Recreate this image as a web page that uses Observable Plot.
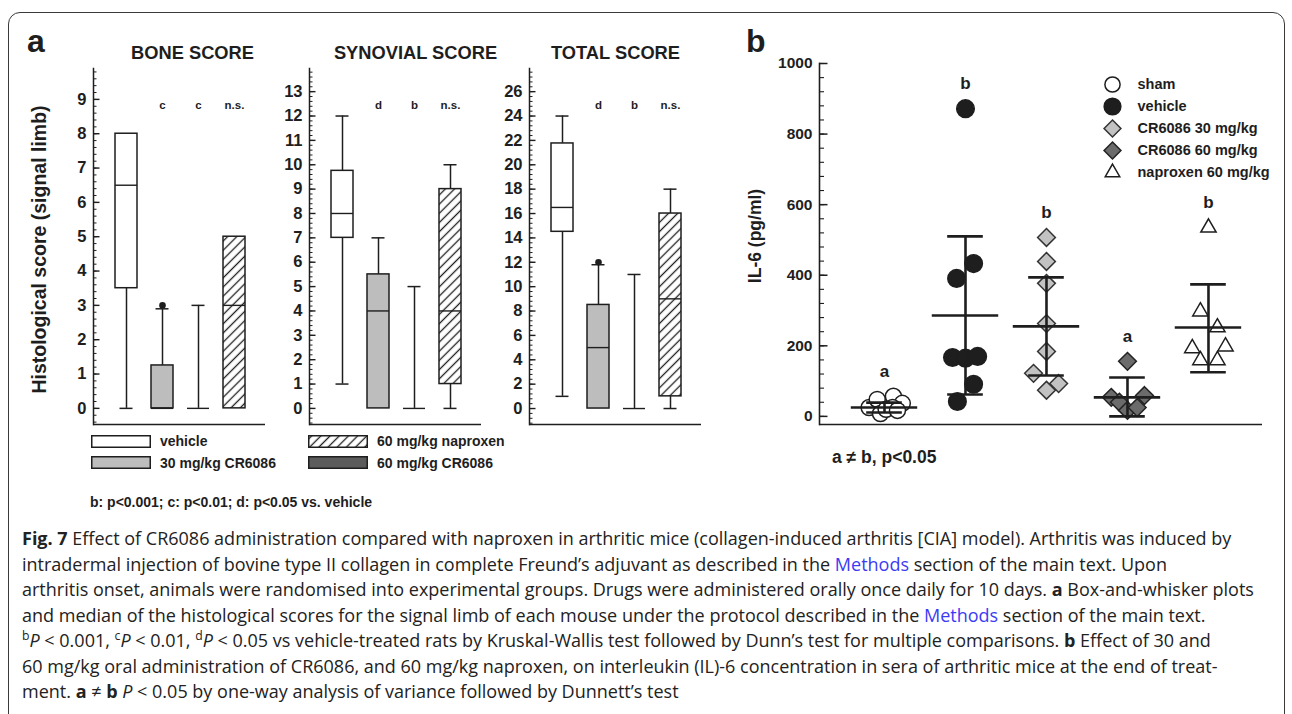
<!DOCTYPE html>
<html>
<head>
<meta charset="utf-8">
<script src="https://cdn.jsdelivr.net/npm/d3@7"></script>
<script src="https://cdn.jsdelivr.net/npm/@observablehq/plot@0.6"></script>
<style>
  html, body { margin: 0; padding: 0; background: #fff; }
  #fig { position: relative; width: 1292px; height: 714px; overflow: hidden;
         font-family: "Liberation Sans", Arial, sans-serif; color: #1e1e1e; }
  #fig > svg, #fig > figure { position: absolute; margin: 0; }
  .border { position: absolute; left: 8px; top: 12px; width: 1277px; height: 760px;
            border: 1.5px solid #3a3a3a; border-radius: 12px; box-sizing: border-box; }
  .panel { position: absolute; font-weight: bold; font-size: 32px; line-height: 1; }
  .lg { position: absolute; display: flex; align-items: center; gap: 9px;
        font-weight: bold; font-size: 14px; line-height: 14px; }
  .lg svg { display: block; }
  .note { position: absolute; font-weight: bold; white-space: nowrap; }
  .caption { position: absolute; left: 22px; top: 526px; font-family: "Open Sans", sans-serif;
             font-size: 18px; line-height: 25.5px; color: #222; white-space: nowrap; }
  .caption .m { color: #3b3bf5; }
  .caption sup { font-size: 0.68em; line-height: 0; vertical-align: 0.55em; }
</style>
</head>
<body>
<div id="fig">
  <svg width="0" height="0" style="position:absolute">
    <defs>
      <pattern id="hatch" patternUnits="userSpaceOnUse" width="6.5" height="6.5" patternTransform="rotate(45)">
        <rect width="6.5" height="6.5" fill="#fff"></rect>
        <line x1="3.25" y1="0" x2="3.25" y2="6.5" stroke="#1e1e1e" stroke-width="1.3"></line>
      </pattern>
    </defs>
  </svg>
  <div class="border"></div>
  <div class="panel" style="left:27px; top:25px">a</div>
  <div class="panel" style="left:746px; top:25px">b</div>
</div>
<script>
// ---------- Panel a: histological scores (box summaries per treatment) ----------
const scoreGroups = ["vehicle", "30 mg/kg CR6086", "60 mg/kg CR6086", "60 mg/kg naproxen"];

const boneMin    = [0,   0,    0, 0];
const boneQ1     = [3.5, 0,    0, 0];
const boneMedian = [6.5, 0,    0, 3];
const boneQ3     = [8,   1.25, 0, 5];
const boneMax    = [8,   2.9,  3, 5];
const boneOutlier = [null, 3, null, null];
const boneSignif  = ["", "c", "c", "n.s."];
const boneTicks   = [0, 1, 2, 3, 4, 5, 6, 7, 8, 9];

const synMin    = [1,    0,   0, 0];
const synQ1     = [7,    0,   0, 1];
const synMedian = [8,    4,   0, 4];
const synQ3     = [9.75, 5.5, 0, 9];
const synMax    = [12,   7,   5, 10];
const synOutlier = [null, null, null, null];
const synSignif  = ["", "d", "b", "n.s."];
const synTicks   = [0, 1, 2, 3, 4, 5, 6, 7, 8, 9, 10, 11, 12, 13];

const totalMin    = [1,     0,    0,  0];
const totalQ1     = [14.5,  0,    0,  1];
const totalMedian = [16.5,  5,    0,  9];
const totalQ3     = [21.75, 8.5,  0,  16];
const totalMax    = [24,    11.8, 11, 18];
const totalOutlier = [null, 12, null, null];
const totalSignif  = ["", "d", "b", "n.s."];
const totalTicks   = [0, 2, 4, 6, 8, 10, 12, 14, 16, 18, 20, 22, 24, 26];

const legendLeft  = ["vehicle", "30 mg/kg CR6086"];
const legendRight = ["60 mg/kg naproxen", "60 mg/kg CR6086"];

// ---------- Panel b: serum IL-6 (pg/ml), individual animals ----------
const il6Groups = ["sham", "vehicle", "CR6086 30 mg/kg", "CR6086 60 mg/kg", "naproxen 60 mg/kg"];
const shamIL6       = [25, 48, 57, 37, 8, 25, 20, 17];
const shamSpread    = [-0.19, -0.09, 0.11, 0.22, -0.05, 0.10, 0.02, 0.16];
const vehicleIL6    = [872, 433, 391, 167, 165, 170, 91, 42];
const vehicleSpread = [0, 0.10, -0.11, -0.16, 0, 0.15, 0.10, -0.10];
const cr30IL6       = [507, 439, 377, 263, 184, 122, 74, 93];
const cr30Spread    = [0, 0, 0, 0, 0, -0.16, 0, 0.15];
const cr60IL6       = [156, 54, 40, 17, 25, 59];
const cr60Spread    = [0, -0.20, -0.10, 0, 0.12, 0.21];
const naproxenIL6   = [535, 297, 252, 193, 198, 159, 159];
const naproxenSpread = [0, -0.10, 0.11, -0.20, 0.21, -0.10, 0.11];

const il6Mean    = [25, 286, 255, 54, 252];
const il6SdLow   = [11, 62, 116, 0, 125];
const il6SdHigh  = [39, 510, 394, 110, 374];
const il6Letters = ["a", "b", "b", "a", "b"];
const il6Ticks   = [0, 200, 400, 600, 800, 1000];

// ---------- shared styling ----------
const ink = "#1e1e1e";
const fontFamily = '"Liberation Sans", Arial, sans-serif';
const boxFill = {
  "vehicle": "#ffffff",
  "30 mg/kg CR6086": "#bdbdbd",
  "60 mg/kg CR6086": "#5c5c5c",
  "60 mg/kg naproxen": "url(#hatch)"
};
const fig = document.getElementById("fig");

function place(node, left, top) {
  node.style.position = "absolute";
  node.style.left = left + "px";
  node.style.top = top + "px";
  fig.appendChild(node);
}

function svgStyle(size) {
  return {background: "none", overflow: "visible", fontFamily, color: ink,
          fontWeight: "bold", fontSize: size + "px"};
}

// One box-and-whisker panel; the y axis sits at axisLeft on the page.
function scorePanel({axisLeft, title, titleDx, domain, ticks, minorStep,
                     min, q1, median, q3, max, outlier, signif, yLabel}) {
  const rows = scoreGroups.map((g, i) => ({
    group: g, min: min[i], q1: q1[i], median: median[i], q3: q3[i], max: max[i],
    out: outlier[i], sig: signif[i]
  }));
  const mL = 93, frameW = 172, mR = 5;
  const minor = d3.range(Math.ceil(domain[0] / minorStep) * minorStep, domain[1], minorStep);
  const lowW = rows.filter(d => d.min < d.q1);
  const highW = rows.filter(d => d.max > d.q3);
  const marks = [
    Plot.frame({anchor: "left", stroke: ink, strokeWidth: 1.5}),
    Plot.ruleY([domain[0]], {stroke: ink, strokeWidth: 1.5}),
    Plot.tickY(minor, {y: d => d, insetRight: frameW - 3.5, stroke: ink, strokeWidth: 1}),
    Plot.tickY(ticks, {y: d => d, insetRight: frameW - 6.5, stroke: ink, strokeWidth: 1.4}),
    Plot.axisY({ticks, tickSize: 0, tickPadding: 7, tickFormat: d => String(d),
                fontSize: 16.5, fontWeight: "bold", label: null}),
    Plot.ruleX(lowW, {x: "group", y1: "min", y2: "q1", stroke: ink, strokeWidth: 1.5}),
    Plot.ruleX(highW, {x: "group", y1: "q3", y2: "max", stroke: ink, strokeWidth: 1.5}),
    Plot.tickY(lowW, {x: "group", y: "min", insetLeft: 4.5, insetRight: 4.5, stroke: ink, strokeWidth: 1.5}),
    Plot.tickY(highW, {x: "group", y: "max", insetLeft: 4.5, insetRight: 4.5, stroke: ink, strokeWidth: 1.5}),
    Plot.barY(rows, {x: "group", y1: "q1", y2: "q3", fill: d => boxFill[d.group], stroke: ink, strokeWidth: 1.5}),
    Plot.tickY(rows, {x: "group", y: "median", stroke: ink, strokeWidth: 1.4}),
    Plot.dot(rows.filter(d => d.out != null), {x: "group", y: "out", r: 3.3, fill: ink}),
    Plot.text(rows, {x: "group", text: "sig", frameAnchor: "top", dy: 32, fontSize: 11.5, fontWeight: "bold", fill: ink}),
    Plot.text([title], {text: d => d, frameAnchor: "top", dy: -23, dx: titleDx, fontSize: 18.3, fontWeight: "bold", fill: ink})
  ];
  if (yLabel) {
    marks.push(Plot.text([yLabel], {text: d => d, frameAnchor: "left", textAnchor: "middle", dx: -54, dy: 3,
                                    rotate: -90, fontSize: 19.5, fontWeight: "bold", fill: ink}));
  }
  const svg = Plot.plot({
    width: mL + frameW + mR, height: 430,
    marginLeft: mL, marginRight: mR, marginTop: 68, marginBottom: 6,
    style: svgStyle(16.5),
    x: {domain: scoreGroups, range: [mL + 7.7, mL + 166.3], padding: 0.4, axis: null},
    y: {domain, axis: null},
    color: {type: "identity"},
    marks
  });
  place(svg, axisLeft - mL, 0);
}

scorePanel({axisLeft: 93, title: "BONE SCORE", titleDx: 13, domain: [-0.47, 9.9], ticks: boneTicks,
  minorStep: 0.2, min: boneMin, q1: boneQ1, median: boneMedian, q3: boneQ3, max: boneMax,
  outlier: boneOutlier, signif: boneSignif, yLabel: "Histological score (signal limb)"});
scorePanel({axisLeft: 309, title: "SYNOVIAL SCORE", titleDx: 20, domain: [-0.66, 13.95], ticks: synTicks,
  minorStep: 0.2, min: synMin, q1: synQ1, median: synMedian, q3: synQ3, max: synMax,
  outlier: synOutlier, signif: synSignif});
scorePanel({axisLeft: 529, title: "TOTAL SCORE", titleDx: 0, domain: [-1.31, 27.9], ticks: totalTicks,
  minorStep: 0.4, min: totalMin, q1: totalQ1, median: totalMedian, q3: totalQ3, max: totalMax,
  outlier: totalOutlier, signif: totalSignif});

// Panel a legend: swatch + label rows
function legendRow(name, left, top) {
  const row = document.createElement("div");
  row.className = "lg";
  row.style.left = left + "px";
  row.style.top = top + "px";
  const sw = d3.create("svg").attr("width", 60).attr("height", 13);
  sw.append("rect").attr("x", 0.75).attr("y", 0.75).attr("width", 58.5).attr("height", 11.5)
    .attr("fill", boxFill[name]).attr("stroke", ink).attr("stroke-width", 1.5);
  row.appendChild(sw.node());
  const label = document.createElement("span");
  label.textContent = name;
  row.appendChild(label);
  fig.appendChild(row);
}
legendLeft.forEach((n, i) => legendRow(n, 91, 434 + i * 21.5));
legendRight.forEach((n, i) => legendRow(n, 308, 434 + i * 21.5));

const foot = document.createElement("div");
foot.className = "note";
foot.style.cssText = "left:90px; top:494px; font-size:14px; line-height:17px";
foot.textContent = "b: p<0.001; c: p<0.01; d: p<0.05 vs. vehicle";
fig.appendChild(foot);

// ---------- Panel b ----------
const groupValues = [shamIL6, vehicleIL6, cr30IL6, cr60IL6, naproxenIL6];
const groupSpread = [shamSpread, vehicleSpread, cr30Spread, cr60Spread, naproxenSpread];
const markerStyle = [
  {symbol: "circle",    fill: "#ffffff", stroke: ink,    r: 8},
  {symbol: "circle",    fill: ink,       stroke: ink,    r: 8.8},
  {symbol: "diamond2",  fill: "#c2c2c2", stroke: "#333", r: 8},
  {symbol: "diamond2",  fill: "#6b6b6b", stroke: "#222", r: 8},
  {symbol: "triangle2", fill: "#ffffff", stroke: ink,    r: 7.3}
];
const gi = g => il6Groups.indexOf(g);
const points = il6Groups.map((g, k) => groupValues[k].map((v, i) => ({group: g, value: v, spread: groupSpread[k][i]})));
const summary = il6Groups.map((g, i) => ({
  group: g, mean: il6Mean[i], lo: il6SdLow[i], hi: il6SdHigh[i],
  letter: il6Letters[i], top: d3.max(groupValues[i])
}));
const il6Minor = d3.range(0, 1001, 40);
const bFrameW = 443;

const il6Svg = Plot.plot({
  width: 540, height: 430, marginLeft: 89, marginRight: 8, marginTop: 63, marginBottom: 6,
  style: svgStyle(15.5),
  x: {domain: [-0.8025, 4.667], axis: null},
  y: {domain: [-23, 1000], axis: null},
  marks: [
    Plot.frame({anchor: "left", stroke: ink, strokeWidth: 1.6}),
    Plot.ruleY([-23], {stroke: ink, strokeWidth: 1.6}),
    Plot.tickY(il6Minor, {y: d => d, insetRight: bFrameW - 5, stroke: ink, strokeWidth: 1.1}),
    Plot.tickY(il6Ticks, {y: d => d, insetRight: bFrameW - 8.5, stroke: ink, strokeWidth: 1.5}),
    Plot.axisY({ticks: il6Ticks, tickSize: 0, tickPadding: 7, tickFormat: d => String(d),
                fontSize: 15.5, fontWeight: "bold", label: null}),
    Plot.text(["IL-6 (pg/ml)"], {text: d => d, frameAnchor: "left", textAnchor: "middle", dx: -64, dy: -8,
                                 rotate: -90, fontSize: 17.5, fontWeight: "bold", fill: ink}),
    ...points.map((pts, k) => Plot.dot(pts, {
      x: d => gi(d.group) + d.spread, y: "value",
      symbol: markerStyle[k].symbol, fill: markerStyle[k].fill, stroke: markerStyle[k].stroke,
      r: markerStyle[k].r, strokeWidth: 1.5
    })),
    Plot.ruleX(summary, {x: d => gi(d.group), y1: "lo", y2: "hi", stroke: ink, strokeWidth: 2.6}),
    Plot.ruleY(summary, {y: "mean", x1: d => gi(d.group) - 0.41, x2: d => gi(d.group) + 0.41, stroke: ink, strokeWidth: 2.6}),
    Plot.ruleY(summary, {y: "hi", x1: d => gi(d.group) - 0.22, x2: d => gi(d.group) + 0.22, stroke: ink, strokeWidth: 2.6}),
    Plot.ruleY(summary, {y: "lo", x1: d => gi(d.group) - 0.22, x2: d => gi(d.group) + 0.22, stroke: ink, strokeWidth: 2.6}),
    Plot.text(summary, {x: d => gi(d.group), y: "top", dy: -25, text: "letter", fontSize: 17, fontWeight: "bold", fill: ink})
  ]
});
place(il6Svg, 730, 0);

// Panel b symbol legend
const legendItems = il6Groups.map((g, k) => ({name: g, ...markerStyle[k]}));
const il6Legend = Plot.plot({
  width: 200, height: 120, marginLeft: 17, marginRight: 0, marginTop: 0, marginBottom: 0,
  style: svgStyle(14.5),
  y: {type: "point", domain: il6Groups, range: [12, 103], padding: 0, axis: null},
  marks: [
    ...legendItems.map(d => Plot.dot([d], {
      y: "name", frameAnchor: "left", symbol: d.symbol, fill: d.fill, stroke: d.stroke,
      r: d.r * 0.95, strokeWidth: 1.5
    })),
    Plot.text(legendItems, {y: "name", text: "name", frameAnchor: "left", dx: 25, textAnchor: "start",
                            fontSize: 14.5, fontWeight: "bold", fill: ink})
  ]
});
place(il6Legend, 1095, 70);

const neq = document.createElement("div");
neq.className = "note";
neq.style.cssText = "left:832px; top:447px; font-size:17.5px; line-height:20px";
neq.textContent = "a \u2260 b, p<0.05";
fig.appendChild(neq);

// ---------- Caption ----------
const captionLines = [
  '<b>Fig. 7</b> Effect of CR6086 administration compared with naproxen in arthritic mice (collagen-induced arthritis [CIA] model). Arthritis was induced by',
  'intradermal injection of bovine type II collagen in complete Freund\u2019s adjuvant as described in the <span class="m">Methods</span> section of the main text. Upon',
  'arthritis onset, animals were randomised into experimental groups. Drugs were administered orally once daily for 10 days. <b>a</b> Box-and-whisker plots',
  'and median of the histological scores for the signal limb of each mouse under the protocol described in the <span class="m">Methods</span> section of the main text.',
  '<sup>b</sup><i>P</i> &lt; 0.001, <sup>c</sup><i>P</i> &lt; 0.01, <sup>d</sup><i>P</i> &lt; 0.05 vs vehicle-treated rats by Kruskal-Wallis test followed by Dunn\u2019s test for multiple comparisons. <b>b</b> Effect of 30 and',
  '60 mg/kg oral administration of CR6086, and 60 mg/kg naproxen, on interleukin (IL)-6 concentration in sera of arthritic mice at the end of treat-',
  'ment. <b>a</b> \u2260 <b>b</b> <i>P</i> &lt; 0.05 by one-way analysis of variance followed by Dunnett\u2019s test'
];
const cap = document.createElement("div");
cap.className = "caption";
cap.innerHTML = captionLines.map(l => `<div>${l}</div>`).join("");
fig.appendChild(cap);
</script>
</body>
</html>
